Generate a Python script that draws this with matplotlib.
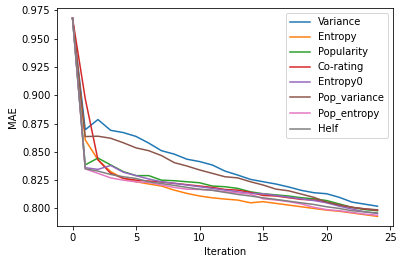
import matplotlib
matplotlib.use('Agg')
import matplotlib.pyplot as plt
import numpy as np

iterations = np.arange(25)

variance = [0.968, 0.8695, 0.8785, 0.869, 0.867, 0.8636, 0.8577, 0.851, 0.848, 0.8435,
            0.8414, 0.8384, 0.833, 0.8295, 0.8257, 0.8236, 0.8216, 0.819, 0.816, 0.8139,
            0.813, 0.8098, 0.8056, 0.8038, 0.802]
entropy = [0.968, 0.8606, 0.843, 0.8325, 0.8266, 0.8236, 0.8216, 0.8198, 0.8162, 0.8133,
           0.811, 0.8094, 0.8083, 0.8074, 0.805, 0.806, 0.8045, 0.803, 0.8015, 0.800,
           0.7985, 0.7975, 0.796, 0.7945, 0.793]
popularity = [0.968, 0.8385, 0.8445, 0.8385, 0.8325, 0.829, 0.829, 0.825, 0.8245, 0.8236,
              0.8227, 0.8198, 0.8192, 0.8177, 0.8147, 0.813, 0.812, 0.811, 0.8095, 0.8085,
              0.807, 0.804, 0.801, 0.799, 0.798]
corating = [0.968, 0.897, 0.843, 0.831, 0.8266, 0.825, 0.8242, 0.8233, 0.8222, 0.821,
            0.8198, 0.8186, 0.8168, 0.8162, 0.8142, 0.8115, 0.811, 0.8095, 0.808, 0.8075,
            0.8055, 0.803, 0.801, 0.7995, 0.7985]
entropy0 = [0.968, 0.836, 0.8345, 0.838, 0.832, 0.829, 0.826, 0.8236, 0.8222, 0.8207,
            0.8192, 0.8177, 0.8162, 0.8147, 0.8133, 0.813, 0.8115, 0.810, 0.8085, 0.807,
            0.805, 0.802, 0.7995, 0.797, 0.7956]
pop_variance = [0.968, 0.8635, 0.8638, 0.862, 0.858, 0.8535, 0.851, 0.8467, 0.8405, 0.8375,
                0.834, 0.831, 0.828, 0.827, 0.8236, 0.8207, 0.8171, 0.8156, 0.8127, 0.8098,
                0.8056, 0.803, 0.801, 0.7997, 0.7988]
pop_entropy = [0.968, 0.835, 0.831, 0.827, 0.825, 0.8235, 0.823, 0.8207, 0.8186, 0.817,
               0.8168, 0.8162, 0.8147, 0.8138, 0.8127, 0.8085, 0.8075, 0.806, 0.804, 0.801,
               0.799, 0.798, 0.7965, 0.795, 0.794]
helf = [0.968, 0.835, 0.833, 0.830, 0.828, 0.8265, 0.8236, 0.822, 0.8204, 0.8186,
        0.817, 0.816, 0.8142, 0.8124, 0.811, 0.8094, 0.808, 0.8065, 0.805, 0.8035,
        0.8015, 0.800, 0.798, 0.797, 0.796]

series = [('Variance', variance), ('Entropy', entropy), ('Popularity', popularity),
          ('Co-rating', corating), ('Entropy0', entropy0), ('Pop_variance', pop_variance),
          ('Pop_entropy', pop_entropy), ('Helf', helf)]

fig = plt.figure(figsize=(402 / 72, 264 / 72), dpi=72)
ax = fig.add_axes([0.1425, 0.1428, 0.9769 - 0.1425, 0.9686 - 0.1428])
for name, vals in series:
    ax.plot(iterations, vals, label=name)
ax.set_xlabel('Iteration')
ax.set_ylabel('MAE')
ax.legend(loc='upper right')
fig.savefig('out.png', dpi=72)
